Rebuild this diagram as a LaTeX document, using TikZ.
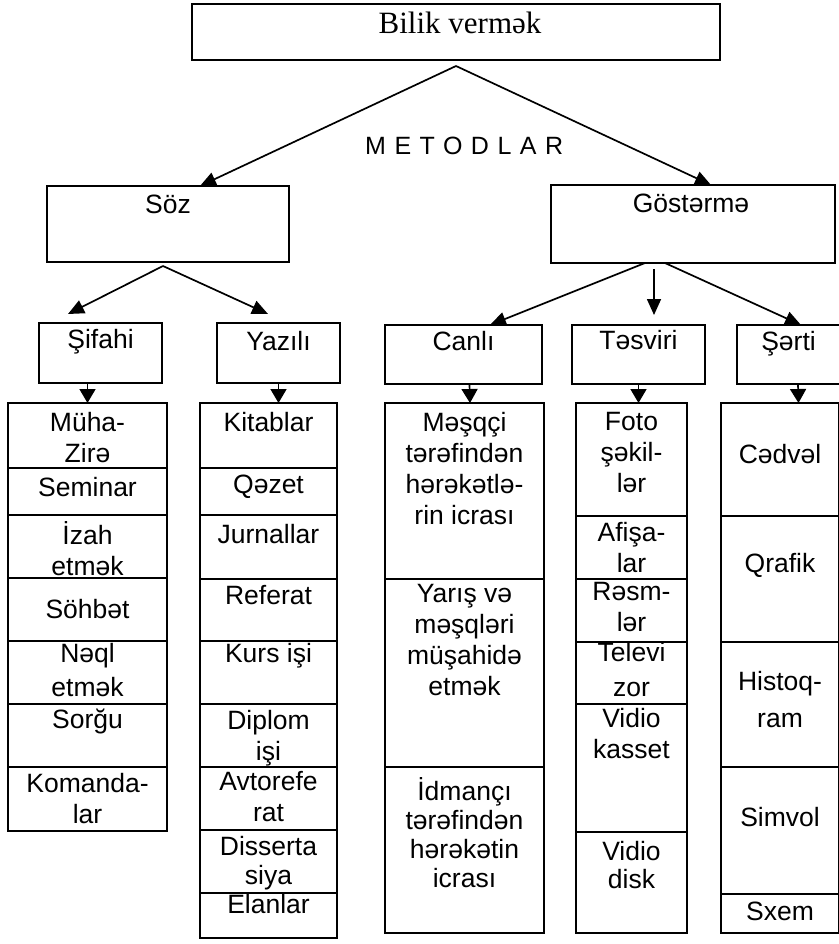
\documentclass[tikz,border=0pt]{standalone}
\usepackage{fontspec}
\setmainfont{Liberation Sans}
\newfontfamily\titleserif{Liberation Serif}
\newfontfamily\trackedsans[LetterSpace=34]{Liberation Sans}
\usetikzlibrary{arrows.meta}

\tikzset{
  mainbox/.style={draw, line width=2.3pt, outer sep=0pt, inner sep=0pt, anchor=north west},
  cellbox/.style={mainbox},
  celltext/.style={align=center, inner sep=0pt, font=\fontsize{26.5}{31}\selectfont},
  linkarrow/.style={line width=1.7pt, -{Triangle[length=16pt,width=14pt]}},
  droparrow/.style={line width=1.7pt, -{Triangle[length=14pt,width=16pt]}},
}

% one framed cell with its centred caption:
% name, x1, y1, x2, y2, caption centre y, caption
\newcommand\mkcell[7]{%
  \node[cellbox, minimum width={#4-#2}, minimum height={#5-#3}] (#1) at (#2,#3) {};
  \node[celltext] (#1-t) at ({(#2+#4)/2},#6) {#7};
}

\begin{document}
\begin{tikzpicture}[x=1pt,y=-1pt]
\fill[white] (0,0) rectangle (838,944);
\useasboundingbox (0,0) rectangle (838,944);

% root
\node[mainbox, minimum width=528, minimum height=56] (bilik) at (192,4) {};
\node[font=\titleserif\fontsize{31}{36}\selectfont, inner sep=0pt] (bilik-t) at (460,22.5) {Bilik vermək};
\node[font=\trackedsans\fontsize{25}{30}\selectfont, inner sep=0pt, anchor=west] (metodlar) at (365,146) {METODLAR};

% two method groups
\node[mainbox, minimum width=242, minimum height=76] (soz) at (47,186) {};
\node[celltext] (soz-t) at (168,204) {Söz};
\node[mainbox, minimum width=284, minimum height=78] (gost) at (551,185) {};
\node[celltext] (gost-t) at (691,203) {Göstərmə};

% sub-groups
\mkcell{sifahi}{39}{323}{162}{383}{341.5}{Şifahi}
\mkcell{yazili}{217}{323}{340}{383}{341.5}{Yazılı}
\mkcell{canli}{385}{325}{542}{384}{341}{Canlı}
\mkcell{tesviri}{572}{325}{705}{384}{340}{Təsviri}
\mkcell{serti}{737}{325}{840}{384}{343.5}{Şərti}

% column: Şifahi
\mkcell{s1}{8}{403}{167}{468}{438}{Müha-\\Zirə}
\mkcell{s2}{8}{468}{167}{515}{487}{Seminar}
\mkcell{s3}{8}{515}{167}{578}{549}{İzah\\etmək}
\mkcell{s4}{8}{578}{167}{641}{609}{Söhbət}
\mkcell{s5}{8}{641}{167}{704}{670}{Nəql\\[3.5pt]etmək}
\mkcell{s6}{8}{704}{167}{767}{721}{Sorğu}
\mkcell{s7}{8}{767}{167}{831}{798.5}{Komanda-\\lar}

% column: Yazılı
\mkcell{y1}{200}{403}{337}{468}{422}{Kitablar}
\mkcell{y2}{200}{468}{337}{515}{487}{Qəzet}
\mkcell{y3}{200}{515}{337}{579}{534}{Jurnallar}
\mkcell{y4}{200}{579}{337}{641}{595.5}{Referat}
\mkcell{y5}{200}{641}{337}{704}{656}{Kurs işi}
\mkcell{y6}{200}{704}{337}{767}{738}{Diplom\\işi}
\mkcell{y7}{200}{767}{337}{830}{797}{Avtorefe\\rat}
\mkcell{y8}{200}{830}{337}{893}{863}{Disserta\\[-2pt]siya}
\mkcell{y9}{200}{893}{337}{938}{904}{Elanlar}

% column: Canlı
\mkcell{c1}{385}{403}{544}{579}{469}{Məşqçi\\tərəfindən\\hərəkətlə-\\rin icrası}
\mkcell{c2}{385}{579}{544}{767}{640}{Yarış və\\məşqləri\\müşahidə\\etmək}
\mkcell{c3}{385}{767}{544}{933}{833}{İdmançı\\[-2pt]tərəfindən\\[-2pt]hərəkətin\\[-2pt]icrası}

% column: Təsviri
\mkcell{t1}{576}{403}{687}{516}{453}{Foto\\şəkil-\\lər}
\mkcell{t2}{576}{516}{687}{579}{548}{Afişa-\\lar}
\mkcell{t3}{576}{579}{687}{642}{607}{Rəsm-\\lər}
\mkcell{t4}{576}{642}{687}{704}{670}{Televi\\[4pt]zor}
\mkcell{t5}{576}{704}{687}{832}{734}{Vidio\\kasset}
\mkcell{t6}{576}{832}{687}{933}{865}{Vidio\\[-3pt]disk}

% column: Şərti
\mkcell{r1}{721}{403}{839}{516}{454}{Cədvəl}
\mkcell{r2}{721}{516}{839}{642}{565}{Qrafik}
\mkcell{r3}{721}{642}{839}{767}{700}{Histoq-\\[6pt]ram}
\mkcell{r4}{721}{767}{839}{894}{817}{Simvol}
\mkcell{r5}{721}{894}{839}{933}{911}{Sxem}

% connectors from the root
\draw[linkarrow] ([yshift=-6pt]bilik.south) -- ([xshift=32pt]soz.north);
\draw[linkarrow] ([yshift=-6pt]bilik.south) -- ([xshift=18pt]gost.north);

% connectors from Söz
\draw[linkarrow] ([xshift=-5pt,yshift=-4pt]soz.south) -- ([xshift=-32.5pt,yshift=9pt]sifahi.north);
\draw[linkarrow] ([xshift=-5pt,yshift=-4pt]soz.south) -- ([xshift=-10.5pt,yshift=9pt]yazili.north);

% connectors from Göstərmə
\draw[linkarrow] ([xshift=-48pt]gost.south) -- ([xshift=26.5pt]canli.north);
\draw[linkarrow] ([xshift=-39pt,yshift=-6pt]gost.south) -- ([xshift=15.5pt,yshift=10pt]tesviri.north);
\draw[linkarrow] ([xshift=-28pt]gost.south) -- ([xshift=12.5pt]serti.north);

% short drops into the columns
\draw[droparrow] (s1.north |- sifahi.south) -- (s1.north);
\draw[droparrow] (yazili.south) -- ([xshift=10pt]y1.north);
\draw[droparrow] ([xshift=6pt]canli.south) -- ([xshift=5.5pt]c1.north);
\draw[droparrow] (tesviri.south) -- ([xshift=7pt]t1.north);
\draw[droparrow] ([xshift=9.5pt]serti.south) -- ([xshift=18.5pt]r1.north);
\end{tikzpicture}
\end{document}
